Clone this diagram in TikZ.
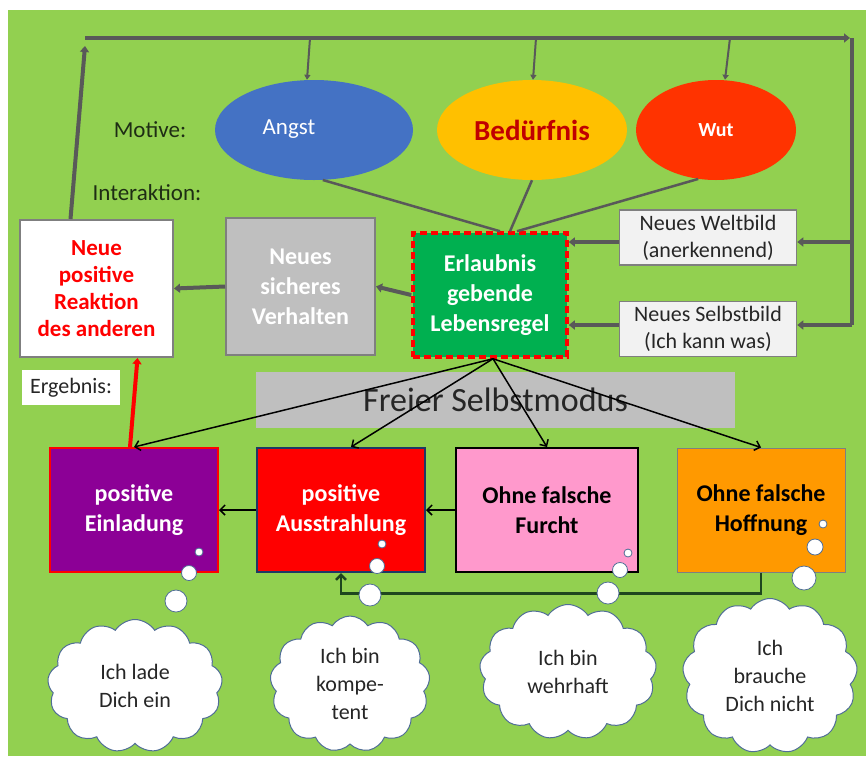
\documentclass[tikz,border=0pt]{standalone}
\usepackage{fontspec}
\setmainfont{Carlito}
\usepackage{tikz}
\usetikzlibrary{shapes.geometric}
\usetikzlibrary{shapes.symbols}
\usetikzlibrary{arrows.meta}
\definecolor{wiese_gruen}{RGB}{146,208,80}
\definecolor{angst_blau}{RGB}{68,114,196}
\definecolor{beduerfnis_gelb}{RGB}{255,192,0}
\definecolor{beduerfnis_rot}{RGB}{192,0,0}
\definecolor{wut_rot}{RGB}{255,51,0}
\definecolor{pfeil_grau}{RGB}{89,89,89}
\definecolor{regel_gruen}{RGB}{0,176,80}
\definecolor{kasten_grau}{RGB}{191,191,191}
\definecolor{rand_grau}{RGB}{127,127,127}
\definecolor{hell_grau}{RGB}{242,242,242}
\definecolor{text_dunkel}{RGB}{38,38,38}
\definecolor{motiv_dunkel}{RGB}{30,45,20}
\definecolor{einladung_lila}{RGB}{140,0,150}
\definecolor{rand_blau}{RGB}{31,56,100}
\definecolor{furcht_rosa}{RGB}{255,153,204}
\definecolor{hoffnung_orange}{RGB}{255,153,0}
\definecolor{linie_gruen}{RGB}{30,70,30}
\definecolor{wolke_rand}{RGB}{80,110,150}

\begin{document}
\begin{tikzpicture}[x=1pt,y=-1pt,
  motiv/.style={ellipse,minimum height=100pt,inner sep=0pt},
  kasten/.style={rectangle,align=center,line width=2pt,inner sep=2pt,font=\bfseries\fontsize{24}{30}\selectfont},
  bildkasten/.style={rectangle,align=center,fill=hell_grau,draw=rand_grau,line width=1.5pt,text=text_dunkel,minimum width=177pt,minimum height=55pt,inner sep=1pt,font=\fontsize{22}{27}\selectfont},
  modkasten/.style={kasten,minimum width=168pt,minimum height=124pt},
  wolke/.style={cloud,cloud puffs=13,cloud puff arc=115,aspect=1.2,fill=white,draw=wolke_rand,line width=1pt,align=center,inner sep=0pt,font=\fontsize{22}{28}\selectfont,text=text_dunkel},
  blase/.style={fill=white,draw=wolke_rand,line width=0.8pt},
  rahmen/.style={draw=pfeil_grau,line width=4pt},
  grau pfeil/.style={rahmen,-{Triangle[length=6pt,width=9pt]}},
  duenn pfeil/.style={draw=pfeil_grau,line width=2pt,-{Triangle[length=5pt,width=6pt]}},
  linie/.style={draw=pfeil_grau,line width=2.5pt},
  schwarz pfeil/.style={draw=black,line width=1.5pt,-{Straight Barb[length=5pt,width=10pt]}},
  rot pfeil/.style={draw=red,line width=4pt,-{Triangle[length=6pt,width=9pt]}},
  gruen pfeil/.style={draw=linie_gruen,line width=2.5pt,-{Straight Barb[length=5pt,width=10pt]}}]
\useasboundingbox (0,0) rectangle (866,756);
\fill[wiese_gruen] (8,10) rectangle (866,756);

\coordinate (oben_links) at (85,38);
\coordinate (oben_rechts) at (852,38);
\coordinate (rechts_welt) at (852,242);
\coordinate (rechts_selbst) at (852,325);

\node[motiv,fill=angst_blau,minimum width=198pt,text=white,font=\fontsize{23}{28}\selectfont] (angst) at (314,130) {\raisebox{5pt}{Angst}\hspace*{50pt}};
\node[motiv,fill=beduerfnis_gelb,minimum width=190pt,text=beduerfnis_rot,font=\bfseries\fontsize{29}{34}\selectfont] (beduerfnis) at (532,130) {Bedürfnis};
\node[motiv,fill=wut_rot,minimum width=160pt,text=white,font=\bfseries\fontsize{20}{24}\selectfont] (wut) at (716,130) {Wut};
\node[text=motiv_dunkel,font=\fontsize{23}{28}\selectfont] (motive) at (150,130) {Motive:};
\node[text=motiv_dunkel,font=\fontsize{23}{28}\selectfont] (interaktion) at (147,193) {Interaktion:};

\node[kasten,fill=white,draw=rand_grau,text=red,minimum width=153pt,minimum height=137pt,font=\bfseries\fontsize{23}{27}\selectfont] (reaktion) at (96.5,288.5) {Neue\\positive\\Reaktion\\des anderen};
\node[kasten,fill=kasten_grau,draw=rand_grau,text=white,minimum width=149pt,minimum height=137pt] (verhalten) at (300.5,286.5) {Neues\\sicheres\\Verhalten};
\node[kasten,fill=regel_gruen,draw=red,line width=3.5pt,dash pattern=on 7pt off 4pt,text=white,minimum width=154pt,minimum height=124pt] (erlaubnis) at (490,295) {Erlaubnis\\gebende\\Lebensregel};
\node[bildkasten] (weltbild) at (708,237.5) {Neues Weltbild\\(anerkennend)};
\node[bildkasten] (selbstbild) at (708,329) {Neues Selbstbild\\(Ich kann was)};

\node[fill=kasten_grau,minimum width=479pt,minimum height=56pt,text=text_dunkel,font=\fontsize{34}{40}\selectfont] (modus) at (495.5,400) {Freier Selbstmodus};
\node[fill=white,minimum width=98pt,minimum height=35pt,text=text_dunkel,font=\fontsize{22}{27}\selectfont] (ergebnis) at (71,387.5) {Ergebnis:};

\node[modkasten,fill=einladung_lila,draw=red,text=white] (einladung) at (134,510) {positive\\Einladung};
\node[modkasten,fill=red,draw=rand_blau,text=white] (ausstrahlung) at (341,510) {positive\\Ausstrahlung};
\node[modkasten,fill=furcht_rosa,draw=black,text=black,minimum width=182pt] (furcht) at (547,510) {Ohne falsche\\Furcht};
\node[modkasten,fill=hoffnung_orange,draw=rand_grau,line width=1pt,text=black] (hoffnung) at (761,510) {Ohne falsche\\Hoffnung};

\draw[grau pfeil] ([xshift=-26pt]reaktion.north) -- ([yshift=-8pt]oben_links);
\draw[grau pfeil] (oben_links) -- ([xshift=-2pt]oben_rechts);
\draw[rahmen] (oben_rechts) -- (rechts_selbst);
\draw[grau pfeil] (rechts_welt) -- (rechts_welt -| weltbild.east);
\draw[grau pfeil] (rechts_selbst) -- (rechts_selbst -| selbstbild.east);
\draw[duenn pfeil] ([xshift=-4pt]angst.north |- oben_links) -- ([xshift=-7pt]angst.north);
\draw[duenn pfeil] ([xshift=4pt]beduerfnis.north |- oben_links) -- ([xshift=1pt]beduerfnis.north);
\draw[duenn pfeil] ([xshift=14pt]wut.north |- oben_links) -- ([xshift=9pt]wut.north);
\draw[linie] (angst.280) -- ([xshift=10pt]erlaubnis.north);
\draw[linie] (beduerfnis.south) -- ([xshift=20pt]erlaubnis.north);
\draw[linie] (wut.250) -- ([xshift=27pt]erlaubnis.north);
\draw[grau pfeil] (weltbild.west |- rechts_welt) -- (rechts_welt -| erlaubnis.east);
\draw[grau pfeil] (selbstbild.west |- rechts_selbst) -- (rechts_selbst -| erlaubnis.east);
\draw[grau pfeil] (erlaubnis.west) -- (verhalten.east);
\draw[grau pfeil] (verhalten.west) -- (reaktion.east);

\foreach \ziel in {einladung,furcht,hoffnung}
  \draw[schwarz pfeil] ([xshift=3pt]erlaubnis.south) -- (\ziel.north);
\draw[schwarz pfeil] ([xshift=3pt]erlaubnis.south) -- ([xshift=10pt]ausstrahlung.north);
\draw[rot pfeil] ([xshift=-4pt]einladung.north) -- ([xshift=41pt]reaktion.south);
\draw[schwarz pfeil] (furcht.west) -- (ausstrahlung.east);
\draw[schwarz pfeil] (ausstrahlung.west) -- (einladung.east);
\draw[gruen pfeil] (hoffnung.south) -- ++(0,21) -| (ausstrahlung.south);

\foreach \x/\y/\r in {199/552/4,189/573/7.5,176/601/11,
                      382/544/4,377/566/7.5,370/595/11,
                      628/553/4,620/570/7.5,608/593/11,
                      823/524/4,815/547/8,804/578/12}
  \draw[blase] (\x,\y) circle[radius=\r pt];

\node[wolke,minimum width=175pt,minimum height=133pt] (wolke_einladung) at (135,686) {Ich lade\\Dich ein};
\node[wolke,minimum width=160pt,minimum height=136pt] (wolke_ausstrahlung) at (350,684) {Ich bin\\kompe-\\tent};
\node[wolke,minimum width=177pt,minimum height=135pt] (wolke_furcht) at (568,672) {Ich bin\\wehrhaft};
\node[wolke,minimum width=175pt,minimum height=155pt] (wolke_hoffnung) at (770,676) {Ich\\brauche\\Dich nicht};
\end{tikzpicture}
\end{document}
